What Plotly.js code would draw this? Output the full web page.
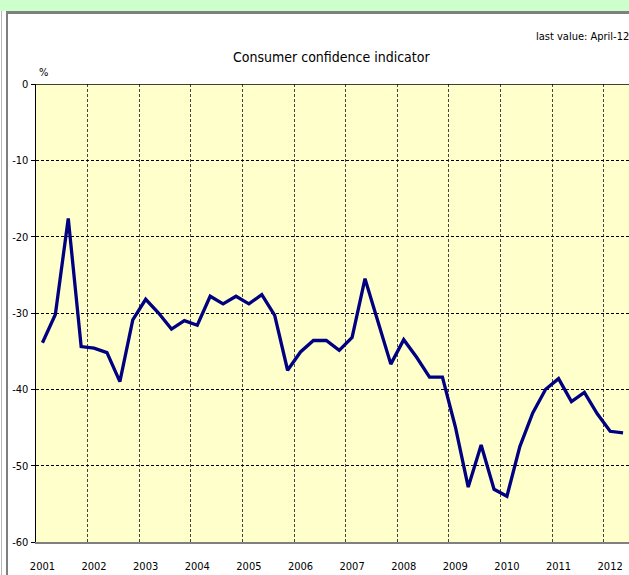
<!DOCTYPE html>
<html><head><meta charset="utf-8">
<script src="https://cdn.plot.ly/plotly-3.0.1.min.js"></script>
<style>
html,body{margin:0;padding:0;background:#fff;overflow:hidden;}
#band{position:absolute;left:0;top:0;width:629px;height:11px;background:#CCFFCC;}
#topline{position:absolute;left:6px;top:11px;width:623px;height:3px;background:#7f7f7f;}
#l1{position:absolute;left:1px;top:11px;width:1px;height:564px;background:#b8b8b8;}
#l2{position:absolute;left:6px;top:11px;width:2px;height:564px;background:#7f7f7f;}
#chart{position:absolute;left:0;top:0;width:629px;height:575px;}
</style></head>
<body>
<div id="band"></div><div id="topline"></div><div id="l1"></div><div id="l2"></div>
<div id="chart"></div>
<script>
// Quarterly consumer confidence indicator, 2001 Q1 .. 2012 Q2
const startYear = 2001;
const values = [
  -33.9, -30.2, -17.6, -34.4,
  -34.6, -35.2, -39.0, -30.9,
  -28.2, -30.0, -32.1, -31.0,
  -31.6, -27.8, -28.8, -27.8,
  -28.8, -27.6, -30.3, -37.5,
  -35.1, -33.6, -33.6, -34.9,
  -33.2, -25.5, -31.1, -36.7,
  -33.5, -35.8, -38.4, -38.4,
  -44.9, -52.8, -47.3, -53.1,
  -54.0, -47.5, -43.1, -40.0,
  -38.6, -41.6, -40.4, -43.2,
  -45.5, -45.7
];
const yearLabels = ['2001','2002','2003','2004','2005','2006','2007','2008','2009','2010','2011','2012'];
const yTickVals = [0, -10, -20, -30, -40, -50, -60];
const yTickText = ['0', '-10', '-20', '-30', '-40', '-50', '-60'];

// x position = middle of each quarter
const xs = values.map((v, i) => startYear + i * 0.25 + 0.125);
const xTickVals = yearLabels.map(y => Number(y) + 0.125);

const FONT = 'Liberation Sans Narrow, Arial Narrow, DejaVu Sans Condensed, sans-serif';

const trace = {
  x: xs, y: values, type: 'scatter', mode: 'lines',
  line: {color: '#000080', width: 3.3},
  hoverinfo: 'skip'
};

const layout = {
  width: 629, height: 575,
  margin: {l: 36, r: 0, t: 84, b: 33, pad: 0},
  paper_bgcolor: 'rgba(0,0,0,0)',
  plot_bgcolor: '#FFFFCC',
  showlegend: false,
  font: {family: FONT, size: 11, color: '#000'},
  xaxis: {
    range: [2001, 2012.49],
    tickmode: 'array', tickvals: xTickVals, ticktext: yearLabels,
    showgrid: false, zeroline: false,
    ticks: '', ticklabelstandoff: 13,
    showline: true, linecolor: '#808080', linewidth: 2,
    tickfont: {family: FONT, size: 11, color: '#000'},
    minor: {tickmode: 'linear', tick0: 2001, dtick: 1, showgrid: true,
            gridcolor: '#444', gridwidth: 1, griddash: '3px,2px', ticks: ''}
  },
  yaxis: {
    range: [-60, 0],
    tickmode: 'array', tickvals: yTickVals, ticktext: yTickText,
    showgrid: true, gridcolor: '#000', gridwidth: 1, griddash: '3px,2px',
    zeroline: false,
    ticks: 'outside', ticklen: 4, tickcolor: '#000', tickwidth: 1,
    showline: true, linecolor: '#000', linewidth: 1.5,
    tickfont: {family: FONT, size: 11, color: '#000'}
  },
  shapes: [
    {type: 'line', xref: 'paper', yref: 'y', x0: 0, x1: 1, y0: 0, y1: 0,
     line: {color: '#000', width: 1.5}, layer: 'above'}
  ],
  annotations: [
    {text: 'Consumer confidence indicator', xref: 'paper', yref: 'paper',
     x: 0.498, y: 1, yshift: 17, xanchor: 'center', yanchor: 'bottom', showarrow: false,
     font: {family: FONT, size: 14, color: '#000'}},
    {text: 'last value: April-12', xref: 'paper', yref: 'paper',
     x: 1, y: 1, xshift: 2, yshift: 39, xanchor: 'right', yanchor: 'bottom', showarrow: false,
     font: {family: FONT, size: 11, color: '#000'}},
    {text: '%', xref: 'paper', yref: 'paper',
     x: 0, y: 1, xshift: 1, yshift: 3, xanchor: 'left', yanchor: 'bottom', showarrow: false,
     font: {family: FONT, size: 11, color: '#000'}}
  ]
};

Plotly.newPlot('chart', [trace], layout, {displayModeBar: false, staticPlot: true});
</script>
</body></html>
